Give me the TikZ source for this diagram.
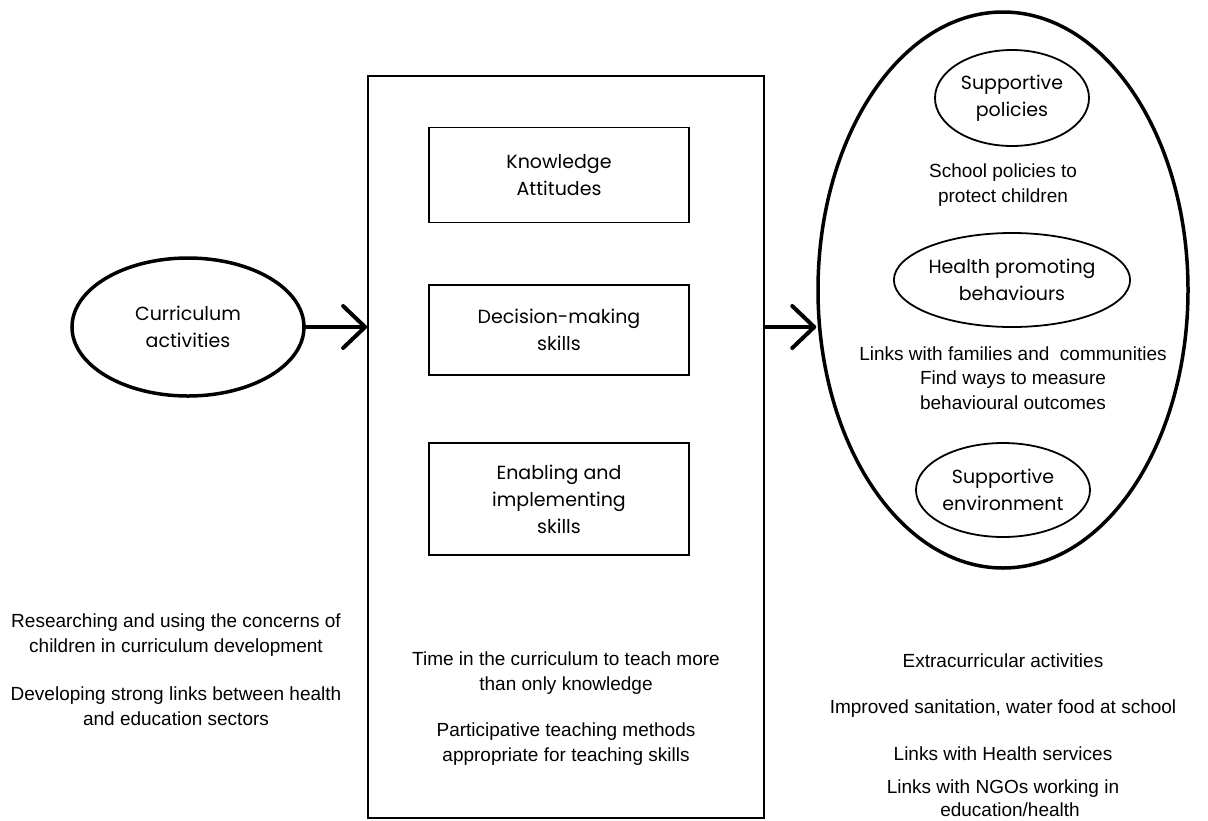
\documentclass[tikz,border=0pt]{standalone}
\usepackage{fontspec}
\setmainfont{Liberation Sans}
\newfontfamily\gothic{Poppins}
\usetikzlibrary{shapes.geometric,arrows.meta}
\begin{document}
\begin{tikzpicture}[x=1pt,y=-1pt,
  lbl/.style={font=\gothic\fontsize{19}{27}\selectfont, align=center},
  note/.style={font=\fontsize{19}{24.5}\selectfont, align=center},
  oval/.style={ellipse, draw, inner sep=0pt, line width=1.8pt},
  bigoval/.style={ellipse, draw, inner sep=0pt, line width=3.5pt},
  skillbox/.style={draw, line width=1.8pt, inner sep=0pt},
  conn/.style={line width=4pt, line cap=round, -{Straight Barb[length=22pt,width=42pt,round]}},
]
\useasboundingbox (0,0) rectangle (1208,820);
% left oval
\node[bigoval,lbl,minimum width=232pt,minimum height=138pt] (cur) at (188,327) {Curriculum\\activities};
% middle box
\node[draw, line width=1.8pt, minimum width=396pt, minimum height=742pt, inner sep=0pt] (mid) at (566,447) {};
\node[skillbox,lbl,minimum width=260pt,minimum height=95pt] (know) at (559,175) {Knowledge\\Attitudes};
\node[skillbox,lbl,minimum width=260pt,minimum height=90pt] (dec) at (559,330) {Decision-making\\skills};
\node[skillbox,lbl,minimum width=260pt,minimum height=112pt] (enab) at (559,499) {Enabling and\\implementing\\skills};
% right big oval
\node[bigoval,minimum width=370pt,minimum height=556pt] (big) at (1003,290) {};
\node[oval,lbl,minimum width=154pt,minimum height=96pt] (sp) at (1012,98) {Supportive\\policies};
\node[oval,lbl,minimum width=230pt,minimum height=94pt] (hp) at (1012,280) {Health promoting\\behaviours};
\node[oval,lbl,minimum width=174pt,minimum height=94pt] (se) at (1003,490) {Supportive\\environment};
\node[note] (t1) at (1003,185) {School policies to\\protect children};
\node[note] (t2) at (1013,378) {Links with families and \ communities\\Find ways to measure\\behavioural outcomes};
% arrows
\draw[conn] (cur.east) -- (cur.east -| mid.west);
\draw[conn] (mid.east |- cur.east) -- (big.west |- cur.east);
% bottom notes
\node[note] (l1) at (176,635) {Researching and using the concerns of\\children in curriculum development};
\node[note] (l2) at (176,706) {Developing strong links between health\\and education sectors};
\node[note] (m1) at (566,673) {Time in the curriculum to teach more\\than only knowledge};
\node[note] (m2) at (566,744) {Participative teaching methods\\appropriate for teaching skills};
\node[note] (r1) at (1003,661) {Extracurricular activities};
\node[note] (r2) at (1003,709) {Improved sanitation, water food at school};
\node[note] (r3) at (1003,754) {Links with Health services};
\node[note] (r4) at (1003,789) {Links with NGOs working in};
\node[note] (r5) at (1010,810) {education/health};
\end{tikzpicture}
\end{document}
